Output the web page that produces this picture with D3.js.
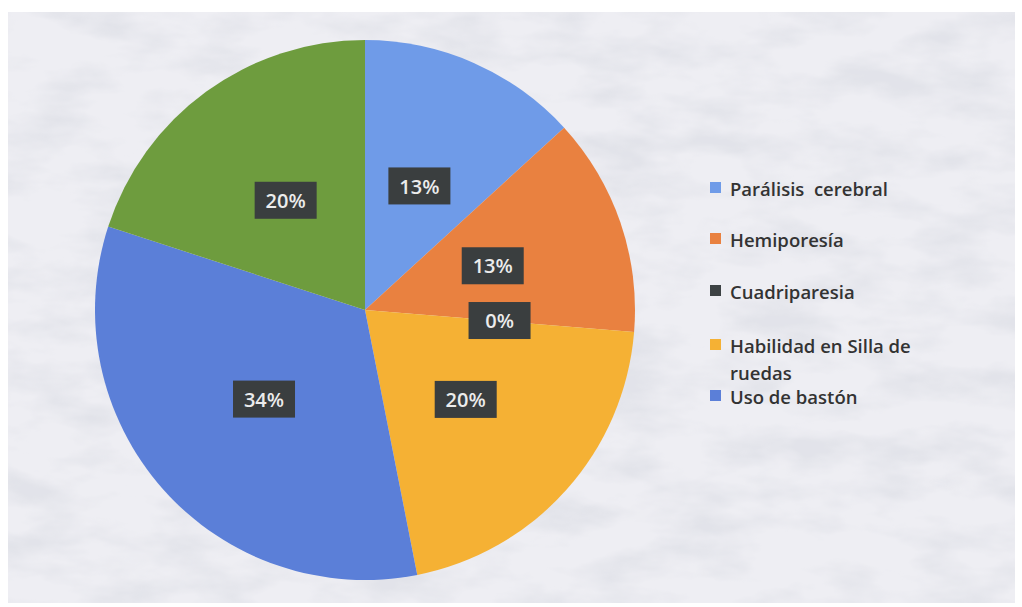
<!DOCTYPE html>
<html><head><meta charset="utf-8">
<script src="https://cdn.jsdelivr.net/npm/d3@7"></script>
<style>html,body{margin:0;padding:0;background:#fff;}svg{display:block;}</style>
</head><body>
<svg id="chart" width="1022" height="607"></svg>
<script>
const categories = ["Parálisis  cerebral","Hemiporesía","Cuadriparesia","Habilidad en Silla de ruedas","Uso de bastón",""];
const values = [13.2, 13.1, 0, 20.6, 33.1, 20];
const labels = ["13%","13%","0%","20%","34%","20%"];
const colors = ["#6f9be8","#e98140","#3d4244","#f5b134","#5b7fd8","#6e9c3e"];
const legendLines = [["Parálisis  cerebral"],["Hemiporesía"],["Cuadriparesia"],["Habilidad en Silla de","ruedas"],["Uso de bastón"]];

const svg = d3.select("#chart");
const defs = svg.append("defs");
const f = defs.append("filter").attr("id","marble").attr("x",0).attr("y",0).attr("width","100%").attr("height","100%");
f.append("feTurbulence").attr("type","fractalNoise").attr("baseFrequency","0.012 0.03").attr("numOctaves",4).attr("seed",3).attr("result","n");
f.append("feColorMatrix").attr("in","n").attr("type","matrix")
 .attr("values","0 0 0 0 0.76  0 0 0 0 0.77  0 0 0 0 0.82  -2.6 0 0 0 1.55").attr("result","c");
f.append("feComposite").attr("in","c").attr("in2","SourceGraphic").attr("operator","in");

svg.append("rect").attr("x",8).attr("y",12).attr("width",1007).attr("height",591).attr("fill","#eeeef3");
svg.append("rect").attr("x",8).attr("y",12).attr("width",1007).attr("height",591).attr("fill","#eeeef3").attr("filter","url(#marble)");

const cx = 365, cy = 310, R = 270;
const g = svg.append("g").attr("transform",`translate(${cx},${cy})`);
const pie = d3.pie().sort(null).value(d=>d)(values);
const arc = d3.arc().innerRadius(0).outerRadius(R);
g.selectAll("path.slice").data(pie).join("path").attr("class","slice")
 .attr("d",arc).attr("fill",(d,i)=>colors[i]);

const lab = g.selectAll("g.lab").data(pie).join("g").attr("class","lab")
 .attr("transform",d=>{const c=arc.centroid(d);return `translate(${c[0]},${c[1]})`;});
lab.append("rect").attr("x",-31).attr("y",-19).attr("width",62).attr("height",37)
 .attr("fill","#3a3e3f");
lab.append("text").text((d,i)=>labels[i]).attr("text-anchor","middle").attr("dy","0.36em")
 .attr("fill","#ececec").attr("font-family","Open Sans, sans-serif").attr("font-size",20).attr("font-weight",600);

const rowsY = [196, 247, 299, 353, 404];
const leg = svg.append("g");
legendLines.forEach((lines,i)=>{
  leg.append("rect").attr("x",710).attr("y",rowsY[i]-14).attr("width",11).attr("height",11).attr("fill",colors[i]);
  lines.forEach((t,j)=>{
    leg.append("text").attr("x",730).attr("y",rowsY[i]+j*27).text(t).style("white-space","pre")
     .attr("fill","#333").attr("font-family","Open Sans, sans-serif").attr("font-size",18.5).attr("font-weight",600);
  });
});
</script>
</body></html>
